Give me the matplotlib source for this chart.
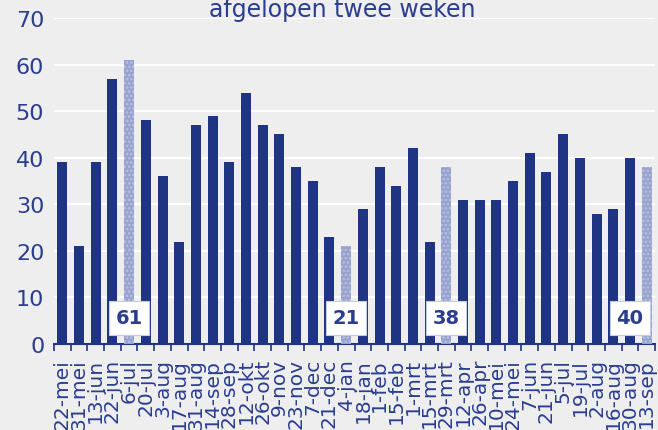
import numpy as np
import matplotlib
matplotlib.use("Agg")
import matplotlib.pyplot as plt
from matplotlib.patches import Rectangle

labels = ['22-mei', '31-mei', '13-jun', '22-jun', '6-jul', '20-jul', '3-aug', '17-aug',
          '31-aug', '14-sep', '28-sep', '12-okt', '26-okt', '9-nov', '23-nov', '7-dec',
          '21-dec', '4-jan', '18-jan', '1-feb', '15-feb', '1-mrt', '15-mrt', '29-mrt',
          '12-apr', '26-apr', '10-mei', '24-mei', '7-jun', '21-jun', '5-jul', '19-jul',
          '2-aug', '16-aug', '30-aug', '13-sep']
values = [39, 21, 39, 57, 61, 48, 36, 22, 47, 49, 39, 54, 47, 45, 38, 35,
          23, 21, 29, 38, 34, 42, 22, 38, 31, 31, 31, 35, 41, 37, 45, 40,
          28, 29, 40, 38]
# bars of the "afgelopen twee weken" periods (lighter, dotted)
highlight = [4, 17, 23, 35]
# value boxes as shown in the chart
box_pos = [4, 17, 23, 34]
box_text = ['61', '21', '38', '40']

dark = '#1f3584'
light = '#97a2cf'
text_col = '#2a3d8f'
bg = '#eeeeee'

plt.rcParams['font.family'] = 'DejaVu Sans'
plt.rcParams['hatch.linewidth'] = 1.2

fig = plt.figure(figsize=(6.58, 4.31), dpi=100, facecolor=bg)
ax = fig.add_axes([54 / 658, 1 - 345 / 431, 601 / 658, 326 / 431], facecolor=bg)

x = np.arange(len(values))
colors = [light if i in highlight else dark for i in x]
bars = ax.bar(x, values, width=0.6, color=colors, edgecolor='none', zorder=3)
for i in highlight:
    bars[i].set_hatch('....')
    bars[i].set_edgecolor('#b9c1e2')
    bars[i].set_linewidth(0)

for p, t in zip(box_pos, box_text):
    ax.add_patch(Rectangle((p - 1.2, 1.9), 2.4, 7.3, facecolor='white',
                           edgecolor='#c5cbe0', lw=0.8, zorder=4))
    ax.text(p, 5.6, t, ha='center', va='center', fontsize=14,
            fontweight='bold', color=text_col, zorder=5)

ax.set_xlim(-0.5, len(values) - 0.5)
ax.set_ylim(0, 70)
ax.set_yticks(range(0, 71, 10))
ax.yaxis.grid(True, color='white', lw=1.6, zorder=0)
ax.tick_params(axis='y', length=0, labelsize=16, labelcolor=text_col, pad=7)

ax.set_xticks(x)
ax.set_xticklabels(labels, rotation=90, fontsize=14.5, color=text_col)
ax.set_xticks(np.arange(-0.5, len(values), 1), minor=True)
ax.tick_params(axis='x', which='major', length=0, pad=10)
ax.tick_params(axis='x', which='minor', length=5, width=1.2, color=dark)

for s in ['top', 'right', 'left']:
    ax.spines[s].set_visible(False)
ax.spines['bottom'].set_color(dark)
ax.spines['bottom'].set_linewidth(1.5)

fig.text(342 / 658, 1 - 17 / 431, 'afgelopen twee weken', ha='center', va='baseline',
         fontsize=17, color=text_col)

fig.savefig('out.png', dpi=100, facecolor=bg)
